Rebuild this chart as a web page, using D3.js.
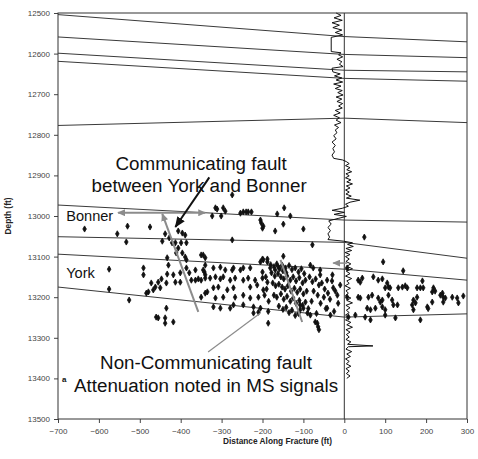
<!DOCTYPE html>
<html>
<head>
<meta charset="utf-8">
<script src="https://cdn.jsdelivr.net/npm/d3@7"></script>
<style>
  body { margin: 0; background: #fff; }
  svg { display: block; font-family: Arial, "Liberation Sans", sans-serif; }
  .tick text { fill: #444; font-size: 8px; }
  .domain { stroke: none; }
  .tick line { stroke: #444; }
</style>
</head>
<body>
<svg id="chart" width="478" height="459"></svg>
<script>
// Axis ticks
const xTicks = [-700, -600, -500, -400, -300, -200, -100, 0, 100, 200, 300];
const yTicks = [12500, 12600, 12700, 12800, 12900, 13000, 13100, 13200, 13300, 13400, 13500];

// Formation tops, depth at x = -700, 0 (well) and 300 ft
const topX = [-700, 0, 300];
const topDepths = [
  [12504, 12558, 12571],
  [12559, 12602, 12610],
  [12599, 12641, 12645],
  [12619, 12661, 12668],
  [12777, 12759, 12770],
  [12973, 13010, 13015],
  [13051, 13065, 13104],
  [13094, 13131, 13158],
  [13175, 13249, 13241]
];

// Well log trace: [depth, offset ft]
const logTrace = [
  [12500, -20], [12506, -8], [12512, -25], [12518, -5], [12524, -30], [12530, -12],
  [12536, -28], [12542, -6], [12548, -22], [12554, -4], [12560, -32], [12595, -32],
  [12598, -8], [12603, -14], [12608, -4], [12614, -18], [12620, -6], [12626, -12],
  [12632, -3], [12636, -30], [12645, -28], [12650, -10], [12655, -24], [12660, -6],
  [12665, -20], [12670, -4], [12675, -26], [12680, -8], [12686, -22], [12691, -5],
  [12696, -16], [12702, -3], [12707, -20], [12712, -6], [12718, -18], [12723, -4],
  [12729, -14], [12734, -5], [12740, -22], [12746, -10], [12752, -26], [12758, -12],
  [12764, -20], [12770, -8], [12776, -24], [12782, -14], [12788, -22], [12795, -18],
  [12802, -26], [12810, -20], [12818, -30], [12826, -22], [12834, -28], [12842, -24],
  [12850, -30], [12858, -26], [12862, -4], [12866, 5], [12871, 12], [12876, 3],
  [12881, 14], [12886, 6], [12891, 18], [12896, 4], [12901, 12], [12906, 3],
  [12911, 16], [12916, 6], [12921, 20], [12926, 5], [12931, 14], [12936, 3],
  [12941, 12], [12946, 4], [12951, 17], [12956, 5], [12961, 38], [12966, 14],
  [12971, 3], [12976, 10], [12981, -5], [12986, -30], [12991, 0], [12996, -25],
  [13001, 5], [13006, -15], [13012, -38], [13020, -32], [13028, -40], [13036, -34],
  [13044, -40], [13052, -36], [13058, -40], [13062, -2], [13066, 20], [13070, 8],
  [13075, 22], [13080, 4], [13085, 18], [13090, 2], [13095, 14], [13100, 3],
  [13106, 12], [13112, 4], [13118, 16], [13124, 6], [13130, 20], [13136, 5],
  [13142, 14], [13148, 3], [13154, 18], [13160, 6], [13166, 12], [13172, 2],
  [13178, 15], [13184, 4], [13190, 10], [13196, 3], [13202, 16], [13208, 6],
  [13214, 20], [13220, 4], [13226, 14], [13232, 5], [13238, 12], [13244, 3],
  [13250, 10], [13256, 3], [13262, 16], [13268, 6], [13274, 20], [13280, 4],
  [13286, 14], [13292, 5], [13298, 12], [13304, 4], [13310, 16], [13316, 8],
  [13320, 70], [13322, 10], [13328, 4], [13334, 18], [13340, 6], [13346, 15],
  [13352, 3], [13358, 12], [13364, 5], [13370, 16], [13376, 4], [13382, 12],
  [13388, 5], [13394, 14], [13400, 6]
];

// Microseismic events: [x ft, depth ft]
const events = [
  [-635, 13032], [-530, 13025], [-475, 13027], [-555, 13044], [-533, 13064], [-438, 13044],
  [-406, 13037], [-396, 13042], [-389, 13047], [-428, 13054], [-445, 13062], [-421, 13066],
  [-413, 13066], [-399, 13066], [-386, 13066], [-406, 13079], [-411, 13091], [-396, 13091],
  [-389, 13101], [-386, 13108], [-350, 13096], [-433, 13103], [-575, 13131], [-491, 13128],
  [-491, 13145], [-430, 13121], [-433, 13143], [-418, 13145], [-401, 13140], [-447, 13155],
  [-455, 13163], [-472, 13165], [-435, 13165], [-386, 13128], [-379, 13140], [-374, 13158],
  [-364, 13158], [-357, 13155], [-350, 13158], [-340, 13153], [-364, 13133], [-342, 13138],
  [-413, 13163], [-401, 13163], [-462, 13175], [-467, 13182], [-479, 13187], [-484, 13190],
  [-450, 13177], [-575, 13180], [-526, 13207], [-350, 13200], [-435, 13227], [-460, 13249],
  [-455, 13251], [-438, 13251], [-438, 13264], [-418, 13261],
  [-274, 12948], [-315, 12980], [-311, 12983], [-296, 12980], [-291, 12988], [-323, 13000],
  [-301, 13000], [-254, 12993], [-247, 12990], [-240, 12990], [-235, 12990], [-227, 12990],
  [-147, 12980], [-164, 12995], [-132, 13000], [-205, 13010], [-203, 13017], [-198, 13025],
  [-200, 13030], [-149, 13020], [-169, 13037], [-100, 13032], [-78, 13071], [-274, 13059],
  [-345, 13096], [-340, 13103], [-200, 13106], [-188, 13106], [-149, 13099],
  [-340, 13121], [-345, 13133], [-320, 13128], [-303, 13126], [-291, 13133], [-274, 13133],
  [-271, 13128], [-254, 13133], [-247, 13128], [-230, 13128], [-205, 13113], [-198, 13108],
  [-188, 13113], [-200, 13138], [-181, 13128], [-169, 13133], [-161, 13126], [-152, 13121],
  [-144, 13128], [-340, 13145], [-328, 13153], [-315, 13150], [-303, 13155], [-296, 13150],
  [-279, 13158], [-267, 13153], [-247, 13158], [-235, 13153], [-218, 13158], [-200, 13153],
  [-188, 13163], [-335, 13187], [-320, 13177], [-308, 13175], [-286, 13182], [-271, 13177],
  [-230, 13175], [-213, 13170], [-198, 13182], [-340, 13190], [-315, 13202], [-296, 13200],
  [-267, 13200], [-247, 13195], [-230, 13202], [-210, 13200], [-320, 13224], [-303, 13227],
  [-279, 13227], [-271, 13219], [-247, 13219], [-222, 13224], [-205, 13227], [-186, 13264],
  [-66, 13264], [-64, 13273], [-71, 13261], [-108, 13219], [-100, 13227], [-108, 13231],
  [-83, 13244], [-90, 13239], [-42, 13227], [-34, 13244], [-27, 13177], [-17, 13195],
  [-10, 13170], [-59, 13145], [-42, 13158], [-29, 13145], [-76, 13128], [-59, 13133],
  [-83, 13121], [-222, 13239], [-210, 13237], [-62, 13280],
  [-180, 13120], [-172, 13125], [-165, 13118], [-158, 13130], [-150, 13135], [-142, 13140],
  [-135, 13122], [-128, 13132], [-120, 13128], [-112, 13138], [-105, 13130], [-98, 13142],
  [-178, 13140], [-170, 13148], [-162, 13142], [-155, 13150], [-148, 13155], [-140, 13148],
  [-132, 13158], [-125, 13150], [-118, 13160], [-110, 13152], [-102, 13165], [-95, 13158],
  [-175, 13165], [-168, 13172], [-160, 13168], [-152, 13175], [-145, 13180], [-138, 13172],
  [-130, 13185], [-122, 13178], [-115, 13188], [-108, 13180], [-100, 13192], [-92, 13185],
  [-172, 13195], [-165, 13200], [-155, 13192], [-148, 13205], [-140, 13198], [-132, 13210],
  [-125, 13202], [-118, 13215], [-110, 13208], [-102, 13220], [-95, 13212], [-160, 13222],
  [-150, 13230], [-142, 13225], [-135, 13238], [-128, 13232], [-120, 13245], [-112, 13240],
  [-85, 13150], [-78, 13162], [-70, 13155], [-62, 13170], [-55, 13165], [-48, 13180],
  [-40, 13190], [-35, 13205], [-50, 13200], [-65, 13195], [-75, 13185], [-80, 13210],
  [-58, 13215], [-45, 13228], [-30, 13160], [-22, 13185], [-15, 13215], [-25, 13235],
  [-68, 13240], [-88, 13228], [-190, 13180], [-195, 13195], [-185, 13210], [-192, 13150],
  [-186, 13235],
  [95, 13113], [144, 13135], [34, 13158], [44, 13153], [39, 13163], [71, 13150],
  [83, 13158], [93, 13155], [105, 13165], [108, 13175], [100, 13177], [112, 13177],
  [132, 13177], [142, 13175], [149, 13172], [154, 13177], [178, 13177], [186, 13177],
  [193, 13177], [191, 13160], [218, 13177], [215, 13187], [222, 13185], [240, 13190],
  [242, 13200], [235, 13195], [264, 13200], [276, 13202], [291, 13197], [39, 13202],
  [34, 13200], [59, 13200], [68, 13195], [83, 13202], [93, 13207], [88, 13212],
  [117, 13207], [120, 13219], [130, 13219], [56, 13227], [64, 13231], [76, 13227],
  [93, 13224], [100, 13231], [169, 13207], [174, 13214], [166, 13219], [178, 13200],
  [203, 13224], [205, 13228], [242, 13212], [247, 13202], [279, 13214], [51, 13249],
  [64, 13256], [100, 13244], [125, 13251], [186, 13256], [7, 13200], [7, 13128],
  [27, 13244], [10, 13249], [169, 13231], [108, 13195], [215, 13212], [49, 13052]
];

// Annotation lines: [x1, depth1, x2, depth2]
const blackArrow = [-330, 12905, -413, 13027];
const bonnerArrow = [-553, 12992, -340, 12992];
const faultComm = [-357, 13236, -445, 12995];
const faultNonComm = [-156, 13108, -103, 13261];
const leaderLine = [-333, 13335, -205, 13239];
const wellArrow = [7, 13116, -27, 13116];

const svg = d3.select('#chart');
const margin = { left: 58, right: 11, top: 13, bottom: 40 };
const width = 478, height = 459;

const x = d3.scaleLinear().domain([-700, 300]).range([margin.left, width - margin.right]);
const y = d3.scaleLinear().domain([12500, 13500]).range([margin.top, height - margin.bottom]);

// Arrowhead markers
const defs = svg.append('defs');
[
  { id: 'head-black', color: '#111', w: 11, h: 9 },
  { id: 'head-gray', color: '#8c8c8c', w: 8, h: 7 }
].forEach(({ id, color, w, h }) => {
  defs.append('marker')
    .attr('id', id).attr('viewBox', `0 0 ${w} ${h}`)
    .attr('refX', w - 1).attr('refY', h / 2)
    .attr('markerUnits', 'userSpaceOnUse').attr('markerWidth', w).attr('markerHeight', h)
    .attr('orient', 'auto-start-reverse')
    .append('path').attr('d', `M0,0L${w},${h / 2}L0,${h}Z`).attr('fill', color);
});

// Axes
svg.append('g')
  .attr('transform', `translate(${margin.left},0)`)
  .call(d3.axisLeft(y).tickValues(yTicks).tickSize(4).tickPadding(4).tickFormat(d3.format('d')));

svg.append('g')
  .attr('transform', `translate(0,${height - margin.bottom})`)
  .call(d3.axisBottom(x).tickValues(xTicks).tickSize(4).tickPadding(5).tickFormat(d3.format('d')));

svg.append('text')
  .attr('x', (x(-700) + x(300)) / 2 + 15).attr('y', 444)
  .attr('text-anchor', 'middle').attr('font-size', 8.3).attr('font-weight', 'bold').attr('fill', '#222')
  .text('Distance Along Fracture (ft)');

svg.append('text')
  .attr('transform', `translate(11,${(y(12500) + y(13500)) / 2}) rotate(-90)`)
  .attr('text-anchor', 'middle').attr('font-size', 8.3).attr('font-weight', 'bold').attr('fill', '#222')
  .text('Depth (ft)');

// Formation tops
const topLine = d3.line().x((d, i) => x(topX[i])).y(d => y(d));
svg.append('g').selectAll('path')
  .data(topDepths)
  .join('path')
  .attr('d', topLine)
  .attr('fill', 'none').attr('stroke', '#3a3a3a').attr('stroke-width', 1);

// Well line and log trace
svg.append('line')
  .attr('x1', x(0)).attr('x2', x(0)).attr('y1', y(12500)).attr('y2', y(13500))
  .attr('stroke', '#333').attr('stroke-width', 1);

svg.append('path')
  .datum(logTrace)
  .attr('d', d3.line().x(d => x(d[1])).y(d => y(d[0])))
  .attr('fill', 'none').attr('stroke', '#111').attr('stroke-width', 1);

// Events
svg.append('g').selectAll('path')
  .data(events)
  .join('path')
  .attr('transform', d => `translate(${x(d[0])},${y(d[1])})`)
  .attr('d', d3.symbol(d3.symbolDiamond, 11))
  .attr('fill', '#111')
  .attr('stroke', '#111').attr('stroke-width', 0.8);

// Annotation lines
const seg = (g, a) => g.append('line')
  .attr('x1', x(a[0])).attr('y1', y(a[1])).attr('x2', x(a[2])).attr('y2', y(a[3]));

seg(svg, faultComm).attr('stroke', '#8c8c8c').attr('stroke-width', 2).attr('marker-end', 'url(#head-gray)');
seg(svg, faultNonComm).attr('stroke', '#8c8c8c').attr('stroke-width', 2);
seg(svg, leaderLine).attr('stroke', '#8c8c8c').attr('stroke-width', 1.2);
seg(svg, bonnerArrow).attr('stroke', '#8c8c8c').attr('stroke-width', 2)
  .attr('marker-start', 'url(#head-gray)').attr('marker-end', 'url(#head-gray)');
seg(svg, wellArrow).attr('stroke', '#8c8c8c').attr('stroke-width', 1.5).attr('marker-end', 'url(#head-gray)');
seg(svg, blackArrow).attr('stroke', '#111').attr('stroke-width', 2).attr('marker-end', 'url(#head-black)');

// Frame
svg.append('rect')
  .attr('x', x(-700)).attr('y', y(12500))
  .attr('width', x(300) - x(-700)).attr('height', y(13500) - y(12500))
  .attr('fill', 'none').attr('stroke', '#333').attr('stroke-width', 1);

// Labels
const label = (txt, px, py, size, anchor) => svg.append('text')
  .attr('x', px).attr('y', py).attr('font-size', size)
  .attr('text-anchor', anchor || 'start').attr('fill', '#111').text(txt);

label('Communicating fault', x(-350), y(12886), 18.8, 'middle');
label('between York and Bonner', x(-355), y(12941), 18.8, 'middle');
label('Bonner', x(-680), y(13013), 14.6);
label('York', x(-680), y(13153), 14.6);
label('Non-Communicating fault', x(-338), y(13377), 18.8, 'middle');
label('Attenuation noted in MS signals', x(-338), y(13433), 18.8, 'middle');
label('a', x(-690), y(13409), 8).attr('font-weight', 'bold');
</script>
</body>
</html>
